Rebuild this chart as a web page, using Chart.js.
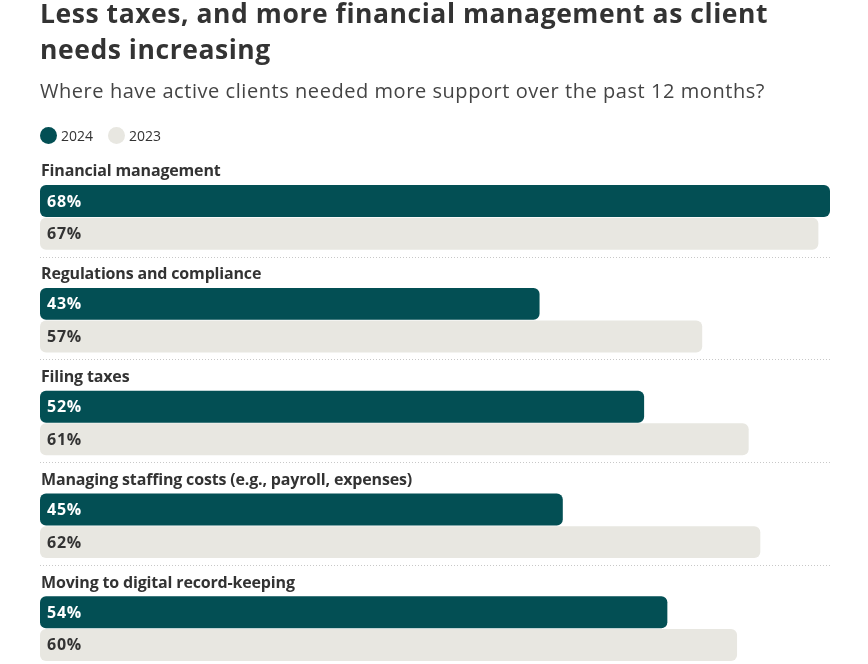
<!DOCTYPE html>
<html>
<head>
<meta charset="utf-8">
<script src="https://cdn.jsdelivr.net/npm/chart.js@4/dist/chart.umd.min.js"></script>
<style>
  html, body { margin: 0; padding: 0; background: #fff; overflow: hidden; width: 868px; height: 664px; }
  #wrap { position: absolute; left: 0; top: 0; width: 868px; height: 720px; }
  .txt { position: absolute; left: 40px; margin: 0; white-space: nowrap; z-index: 2; font-family: "Open Sans", sans-serif; }
  .title { top: -4px; font-weight: 700; font-size: 26.5px; line-height: 35.5px; color: #333; }
  .title span { display: block; }
  .subtitle { top: 81px; font-weight: 400; font-size: 20px; line-height: 20px; color: #444; }
  .legend { top: 127px; font-size: 14px; line-height: 17px; color: #333; display: flex; align-items: center; }
  .legend span.dot { display: inline-block; width: 17px; height: 17px; border-radius: 50%; margin-right: 4px; }
  .legend span.lbl { display: inline-block; }
</style>
</head>
<body>
<div class="txt title"><span id="t1">Less taxes, and more financial management as client</span><span id="t2">needs increasing</span></div>
<div class="txt subtitle"><span id="sub">Where have active clients needed more support over the past 12 months?</span></div>
<div class="txt legend" id="legend"></div>
<div id="wrap"><canvas id="c" width="868" height="720"></canvas></div>
<script>
const categories = [
  "Financial management",
  "Regulations and compliance",
  "Filing taxes",
  "Managing staffing costs (e.g., payroll, expenses)",
  "Moving to digital record-keeping"
];
const seriesNames = ["2024", "2023"];
const values2024 = [68, 43, 52, 45, 54];
const values2023 = [67, 57, 61, 62, 60];
const seriesColors = ["#034f54", "#e8e7e1"];
const labelColors = ["#ffffff", "#333333"];

// HTML legend
const leg = document.getElementById('legend');
seriesNames.forEach((n, i) => {
  const d = document.createElement('span'); d.className = 'dot'; d.style.background = seriesColors[i];
  const l = document.createElement('span'); l.className = 'lbl'; l.textContent = n;
  l.style.width = (i === 0 ? 47 : 34) + "px";
  leg.appendChild(d); leg.appendChild(l);
});

// fit letter-spacing of html text to reference widths
function fitSpacing(el, target) {
  const w = el.getBoundingClientRect().width;
  const n = el.textContent.length;
  el.style.letterSpacing = ((target - w) / n) + "px";
}
fitSpacing(document.getElementById('t1'), 728);
document.getElementById('t2').style.letterSpacing = document.getElementById('t1').style.letterSpacing;
fitSpacing(document.getElementById('sub'), 725);

const catFont = "700 16px 'Open Sans', sans-serif";
const valFont = "700 16px 'Open Sans', sans-serif";
let catSpacing = 0, valSpacing = 0;
(function () {
  const m = document.createElement('canvas').getContext('2d');
  m.font = catFont;
  const s = categories[3];
  catSpacing = (371 - m.measureText(s).width) / s.length;
  m.font = valFont;
  valSpacing = (35 - m.measureText("68%").width) / 3;
})();

const decor = {
  id: 'decor',
  afterDatasetsDraw(chart) {
    const ctx = chart.ctx;
    const y = chart.scales.y;
    const area = chart.chartArea;
    const pitch = y.getPixelForValue(1) - y.getPixelForValue(0);
    ctx.save();
    ctx.font = catFont;
    ctx.letterSpacing = catSpacing + "px";
    ctx.fillStyle = "#333";
    ctx.textBaseline = "alphabetic";
    ctx.textAlign = "left";
    categories.forEach((c, i) => {
      const cy = y.getPixelForValue(i);
      ctx.fillText(c, area.left + 1, cy - 41);
    });
    ctx.letterSpacing = "0px";
    ctx.strokeStyle = "#c8c8c8";
    ctx.lineWidth = 1;
    ctx.setLineDash([1, 2]);
    for (let i = 0; i < categories.length - 1; i++) {
      const sy = Math.round(y.getPixelForValue(i) + pitch * 0.382) + 0.5;
      ctx.beginPath();
      ctx.moveTo(area.left, sy);
      ctx.lineTo(area.right, sy);
      ctx.stroke();
    }
    ctx.setLineDash([]);
    ctx.font = valFont;
    ctx.letterSpacing = valSpacing + "px";
    ctx.textBaseline = "middle";
    chart.data.datasets.forEach((ds, di) => {
      const meta = chart.getDatasetMeta(di);
      ctx.fillStyle = labelColors[di];
      meta.data.forEach((bar, i) => {
        ctx.fillText(ds.data[i] + "%", bar.base + 7, bar.y + 1);
      });
    });
    ctx.restore();
  }
};

new Chart(document.getElementById('c'), {
  type: 'bar',
  data: {
    labels: categories,
    datasets: [
      { label: seriesNames[0], data: values2024, backgroundColor: seriesColors[0], borderRadius: 6, borderSkipped: false, barPercentage: 0.98, categoryPercentage: 0.635 },
      { label: seriesNames[1], data: values2023, backgroundColor: seriesColors[1], borderRadius: 6, borderSkipped: false, barPercentage: 0.98, categoryPercentage: 0.635 }
    ]
  },
  options: {
    indexAxis: 'y',
    responsive: false,
    animation: false,
    layout: { padding: { left: 40, right: 38, top: 166, bottom: 40 } },
    plugins: { legend: { display: false }, tooltip: { enabled: false }, title: { display: false } },
    scales: {
      x: { display: false, min: 0, max: 68 },
      y: { display: false }
    }
  },
  plugins: [decor]
});
</script>
</body>
</html>
